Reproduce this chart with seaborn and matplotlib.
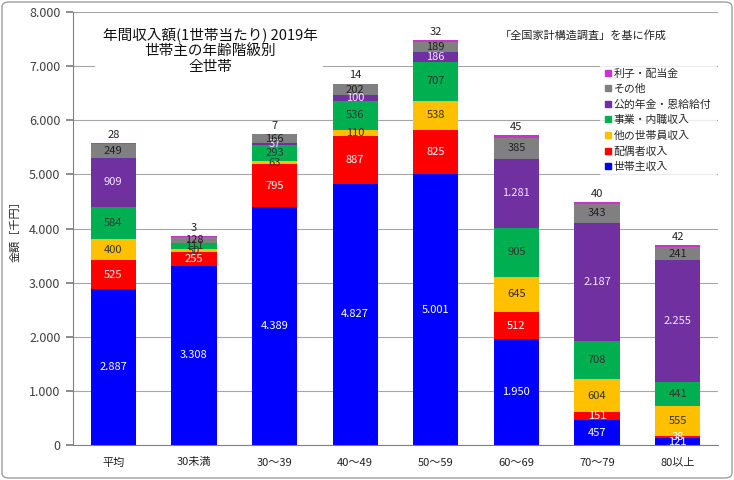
import matplotlib
matplotlib.use("Agg")
import matplotlib.pyplot as plt
import matplotlib.patches as mpatches
from matplotlib.lines import Line2D
import seaborn as sns
import pandas as pd
import numpy as np

categories = ["平均", "30未満", "30～39", "40～49", "50～59", "60～69", "70～79", "80以上"]
head = [2887, 3308, 4389, 4827, 5001, 1950, 457, 121]          # 世帯主収入
spouse = [525, 255, 795, 887, 825, 512, 151, 38]              # 配偶者収入
other_member = [400, 50, 63, 110, 538, 645, 604, 555]         # 他の世帯員収入
business = [584, 111, 293, 536, 707, 905, 708, 441]           # 事業・内職収入
pension = [909, 0, 37, 100, 186, 1281, 2187, 2255]            # 公的年金・恩給給付
others = [249, 128, 166, 202, 189, 385, 343, 241]             # その他
interest = [28, 3, 7, 14, 32, 45, 40, 42]                     # 利子・配当金

series_names = ["世帯主収入", "配偶者収入", "他の世帯員収入", "事業・内職収入",
                "公的年金・恩給給付", "その他", "利子・配当金"]
series_vals = [head, spouse, other_member, business, pension, others, interest]
colors = ["#0000FF", "#FF0000", "#FFC000", "#00B050", "#7030A0", "#808080", "#CC33CC"]
label_colors = ["white", "white", "#333333", "#333333", "#F0E6FF", "#222222", "#222222"]

sns.set_theme(style="white")
plt.rcParams["font.family"] = ["Noto Sans CJK JP", "DejaVu Sans"]

fig = plt.figure(figsize=(7.34, 4.80), dpi=100)
ax = fig.add_axes([73/734, 1-445/480, (718-73)/734, (445-12)/480])

arr = np.array(series_vals, dtype=float)
cum = np.cumsum(arr, axis=0)
df = pd.DataFrame({"cat": categories})
for i in range(len(series_names) - 1, -1, -1):
    df["y"] = cum[i]
    sns.barplot(data=df, x="cat", y="y", color=colors[i], saturation=1,
                width=0.56, ax=ax, zorder=3, edgecolor="none", linewidth=0)

def fmt(v):
    return f"{int(v):,}".replace(",", ".")

for i in range(len(series_names) - 1):
    for j in range(len(categories)):
        v = arr[i, j]
        if v <= 0:
            continue
        mid = cum[i, j] - v / 2
        ax.text(j, mid, fmt(v), ha="center", va="center", fontsize=8,
                color=label_colors[i], zorder=5)
for j in range(len(categories)):
    ax.text(j, cum[-1, j] + 60, fmt(arr[-1, j]), ha="center", va="bottom",
            fontsize=8, color="#222222", zorder=5)

ax.set_ylim(0, 8000)
ax.set_xlim(-0.5, len(categories) - 0.5)
ax.set_yticks(range(0, 8001, 1000))
ax.set_yticklabels([fmt(v) for v in range(0, 8001, 1000)], fontsize=9, color="#404040")
ax.set_xticks(range(len(categories)))
ax.set_xticklabels(categories, fontsize=8, color="#222222")
ax.set_xticks(np.arange(-0.5, len(categories), 1), minor=True)
ax.tick_params(axis="x", which="major", length=0, pad=9)
ax.tick_params(axis="x", which="minor", length=4, color="#808080", direction="out")
ax.tick_params(axis="y", length=5, color="#808080", direction="out", pad=4, left=True)
ax.grid(axis="y", color="#A6A6A6", linewidth=0.8, zorder=0)
ax.set_axisbelow(True)
for s in ["top", "right"]:
    ax.spines[s].set_visible(False)
for s in ["left", "bottom"]:
    ax.spines[s].set_color("#808080")
    ax.spines[s].set_linewidth(0.8)
ax.set_xlabel("")
ax.set_ylabel("金額［千円］", fontsize=8, color="#222222", labelpad=6)

# title with white box covering gridlines
title_box = mpatches.Rectangle((95/734, 1-75/480), 228/734, 60/480,
                               transform=fig.transFigure, facecolor="white",
                               edgecolor="none", zorder=2)
ax.add_patch(title_box)
ax.text(0.213, 0.965, "年間収入額(1世帯当たり) 2019年\n世帯主の年齢階級別\n全世帯",
        transform=ax.transAxes, ha="center", va="top", fontsize=10.5,
        linespacing=1.2, color="#111111", zorder=6)

fig.text(500/734, 1-35/480, "「全国家計構造調査」を基に作成", fontsize=8,
         color="#222222", va="center", ha="left")

handles = [Line2D([0], [0], marker="s", linestyle="none", markersize=4,
                  markerfacecolor=colors[i], markeredgecolor=colors[i])
           for i in range(len(series_names) - 1, -1, -1)]
labels = [series_names[i] for i in range(len(series_names) - 1, -1, -1)]
leg = ax.legend(handles, labels, loc="upper left", bbox_to_anchor=(0.808, 0.895),
                frameon=True, fontsize=7.8, handlelength=0.6, handletextpad=0.2,
                labelspacing=0.5, borderpad=0.5, fancybox=False)
leg.get_frame().set_facecolor("white")
leg.get_frame().set_edgecolor("none")
leg.set_zorder(6)

border = mpatches.FancyBboxPatch((2/734, 2/480), 730/734, 476/480,
                                 boxstyle="round,pad=0,rounding_size=0.01",
                                 transform=fig.transFigure, facecolor="none",
                                 edgecolor="#A0A0A0", linewidth=1.0)
fig.patches.append(border)

fig.savefig("out.png", dpi=100)
